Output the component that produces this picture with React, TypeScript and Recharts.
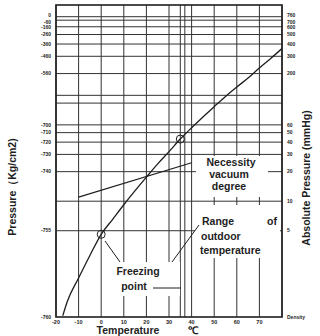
import React from 'react';
import { ComposedChart, Line, XAxis, YAxis, ReferenceLine } from 'recharts';

// Temperature (°C) vs saturated vapour pressure (absolute, mmHg)
const temps = [-17, -15, -10, -5, 0, 5, 10, 15, 20, 25, 30, 35, 40, 45, 50, 55, 60, 65, 70, 75, 80];
const vaporPressure = [0.68, 0.95, 1.65, 2.8, 4.6, 6.5, 9.2, 12.8, 17.6, 24, 32, 43, 56, 72, 92, 117, 146, 180, 228, 285, 360];

// "Necessity vacuum degree" line
const needTemps = [-10, 40];
const needPressure = [11, 24.6];

// circled points (freezing point, upper outdoor temperature)
const markTemps = [0, 35];
const markPressure = [4.6, 43];

const xTicks = [-20, -10, 0, 10, 20, 30, 40, 50, 60, 70];
const xTickLabels = ['-20', '-10', '0', '10', '20', '30', '40', '50', '60', '70'];
const xGrid = [-20, -10, 0, 10, 20, 30, 35, 37, 40, 50, 60, 70, 80];

const leftTicks = [760, 700, 600, 500, 400, 300, 200, 60, 50, 40, 30, 20, 5, 0.66];
const leftTickLabels = ['0', '-60', '-160', '-260', '-360', '-460', '-560', '-700', '-710', '-720', '-730', '-740', '-755', '-760'];
const rightTicks = [760, 700, 600, 500, 400, 300, 200, 60, 50, 40, 30, 20, 10, 5, 0.66];
const rightTickLabels = ['760', '700', '600', '500', '400', '300', '200', '60', '50', '40', '30', '20', '10', '5', 'Density'];
const yGrid = [760, 700, 600, 500, 400, 300, 200, 120, 100, 60, 50, 40, 30, 20, 10, 5];

const Y_DOMAIN: [number, number] = [0.66, 1000];

const curveData = temps.map((t, i) => ({ t, p: vaporPressure[i] }));
const needData = needTemps.map((t, i) => ({ t, p: needPressure[i] }));
const markData = markTemps.map((t, i) => ({ t, p: markPressure[i] }));

const FONT = '"Liberation Sans", Arial, sans-serif';
const INK = '#1e1e1e';

const labelFor = (values: number[], labels: string[]) => (v: number) => {
  const i = values.indexOf(v);
  return i >= 0 ? labels[i] : '';
};

// small nudge for the two crowded top labels so they do not collide
const nudge = (v: number) => (v === 760 ? -1.8 : v === 700 ? 1.8 : 0);

const makeTick = (values: number[], labels: string[], anchor: 'start' | 'end') => (props: any) => {
  const { x, y, payload } = props;
  const v = payload.value as number;
  return (
    <text
      x={x}
      y={y + nudge(v)}
      dy="0.35em"
      textAnchor={anchor}
      fontSize={5}
      fontWeight={700}
      fill={INK}
      fontFamily={FONT}
    >
      {labelFor(values, labels)(v)}
    </text>
  );
};

export default function App() {
  return (
    <div style={{ position: 'absolute', left: 0, top: 0, width: 320, height: 336, background: '#fff' }}>
      <ComposedChart width={320} height={336} margin={{ top: 5, right: 0, bottom: 0, left: 0 }}>
        <XAxis
          type="number"
          dataKey="t"
          domain={[-20, 80]}
          ticks={xTicks}
          tickFormatter={labelFor(xTicks, xTickLabels)}
          allowDataOverflow
          axisLine={false}
          tickLine={false}
          tickSize={0}
          tickMargin={3}
          height={19}
          tick={{ fontSize: 5.5, fontWeight: 700, fill: INK, fontFamily: FONT }}
        />
        <YAxis
          yAxisId="left"
          orientation="left"
          type="number"
          scale="log"
          domain={Y_DOMAIN}
          allowDataOverflow
          ticks={leftTicks}
          axisLine={false}
          tickLine={false}
          tickSize={0}
          tickMargin={5}
          width={56}
          interval={0}
          tick={makeTick(leftTicks, leftTickLabels, 'end')}
        />
        <YAxis
          yAxisId="right"
          orientation="right"
          type="number"
          scale="log"
          domain={Y_DOMAIN}
          allowDataOverflow
          ticks={rightTicks}
          axisLine={false}
          tickLine={false}
          tickSize={0}
          tickMargin={5}
          width={38}
          interval={0}
          tick={makeTick(rightTicks, rightTickLabels, 'start')}
        />
        {yGrid.map((v) => (
          <ReferenceLine key={'h' + v} yAxisId="left" y={v} stroke="#333" strokeWidth={1} />
        ))}
        {xGrid.map((v) => (
          <ReferenceLine key={'v' + v} yAxisId="left" x={v} stroke="#333" strokeWidth={1} />
        ))}
        <Line
          yAxisId="left"
          data={curveData}
          dataKey="p"
          type="monotone"
          stroke={INK}
          strokeWidth={1.3}
          dot={false}
          isAnimationActive={false}
        />
        <Line
          yAxisId="left"
          data={needData}
          dataKey="p"
          type="linear"
          stroke={INK}
          strokeWidth={1.1}
          dot={false}
          isAnimationActive={false}
        />
        <Line
          yAxisId="left"
          data={markData}
          dataKey="p"
          stroke="none"
          dot={{ r: 4, fill: 'none', stroke: INK, strokeWidth: 1 }}
          isAnimationActive={false}
        />
      </ComposedChart>
      <svg
        width={320}
        height={336}
        style={{ position: 'absolute', left: 0, top: 0, pointerEvents: 'none' }}
        fontFamily={FONT}
      >
        <rect x={56} y={5} width={226} height={312} fill="none" stroke={INK} strokeWidth={1.6} />
        {/* annotation masks */}
        <rect x={196} y={156} width={72} height={41} fill="#fff" />
        <rect x={195} y={205} width={85} height={53} fill="#fff" />
        <rect x={103} y={262} width={77} height={34} fill="#fff" />
        {/* leader lines */}
        <line x1={105} y1={241} x2={120} y2={262} stroke={INK} strokeWidth={1} />
        <line x1={199} y1={225} x2={172} y2={262} stroke={INK} strokeWidth={1} />
        <line x1={153} y1={288} x2={181} y2={288} stroke={INK} strokeWidth={1} />
        <g fontWeight={700} fontSize={10.5} fill={INK}>
          <text x={231} y={166} textAnchor="middle">Necessity</text>
          <text x={229} y={178} textAnchor="middle">vacuum</text>
          <text x={229} y={190} textAnchor="middle">degree</text>
          <text x={202} y={225}>Range</text>
          <text x={277} y={225} textAnchor="end">of</text>
          <text x={201} y={240}>outdoor</text>
          <text x={200} y={254}>temperature</text>
          <text x={138} y={275} textAnchor="middle">Freezing</text>
          <text x={134} y={290} textAnchor="middle">point</text>
          <text x={128} y={334} textAnchor="middle">Temperature</text>
          <text x={193} y={334} textAnchor="middle">℃</text>
          <text x={16} y={187} textAnchor="middle" transform="rotate(-90 16 187)">Pressure（Kg/cm2)</text>
          <text x={310} y={178} textAnchor="middle" transform="rotate(-90 310 178)">Absolute Pressure (mmHg)</text>
        </g>
      </svg>
    </div>
  );
}
